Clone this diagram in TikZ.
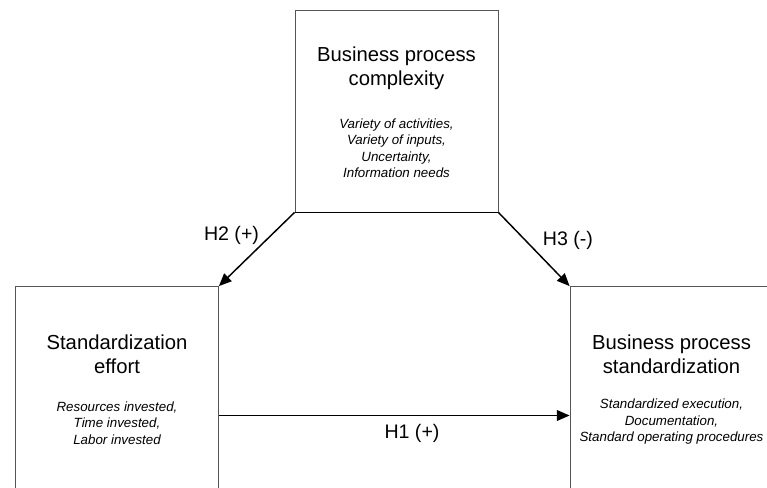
\documentclass[tikz,border=0pt]{standalone}
\usepackage{fontspec}
\setmainfont{Liberation Sans}
\usetikzlibrary{arrows.meta,positioning,calc}
\definecolor{Ink}{HTML}{000000}
\definecolor{Frame}{HTML}{555555}

\begin{document}
\begin{tikzpicture}[x=0.75pt,y=-0.75pt,
  construct/.style={draw=Frame,line width=0.6pt,minimum width=152.25pt,minimum height=151.5pt,inner sep=0pt},
  title/.style={align=center,font=\fontsize{15.2}{18}\selectfont},
  items/.style={align=center,font=\fontsize{10}{12.4}\selectfont\itshape},
  hyp/.style={-{Triangle[length=9.5pt,width=8pt]},line width=1.1pt,Ink},
  lbl/.style={font=\fontsize{14.7}{17}\selectfont}]
\useasboundingbox (0,0) rectangle (767,488);
\clip (0,0) rectangle (767,488);
% the three constructs
\node[construct] (cplx) at (396.5,111) {};
\node[construct] (effort) at (117,387.5) {};
\node[construct] (std) at (671.5,387.5) {};
\draw[Ink,line width=0.9pt] (cplx.south west) -- (cplx.south east);
% titles and measured items
\node[title] (cplx-t) at ($(cplx.north)+(0,58.5)$) {Business process\\complexity};
\node[items] (cplx-i) at ($(cplx.north)+(0,138.5)$) {Variety of activities,\\Variety of inputs,\\Uncertainty,\\Information needs};
\node[title] (effort-t) at ($(effort.north)+(0,68)$) {Standardization\\effort};
\node[items] (effort-i) at ($(effort.north)+(0,137)$) {Resources invested,\\Time invested,\\Labor invested};
\node[title] (std-t) at ($(std.north)+(0,68)$) {Business process\\standardization};
\node[items] (std-i) at ($(std.north)+(0,135.5)$) {Standardized execution,\\Documentation,\\Standard operating procedures};
% hypotheses
\draw[hyp] (cplx.south west) -- (effort.north east);
\draw[hyp] (cplx.south east) -- (std.north west);
\draw[hyp] ($(effort.east)+(0,28)$) -- ($(std.west)+(0,28)$);
\node[lbl] (h2) at (231.5,235) {H2 (+)};
\node[lbl] (h3) at (568,240) {H3 (-)};
\node[lbl] (h1) at (412,433) {H1 (+)};
\end{tikzpicture}
\end{document}
